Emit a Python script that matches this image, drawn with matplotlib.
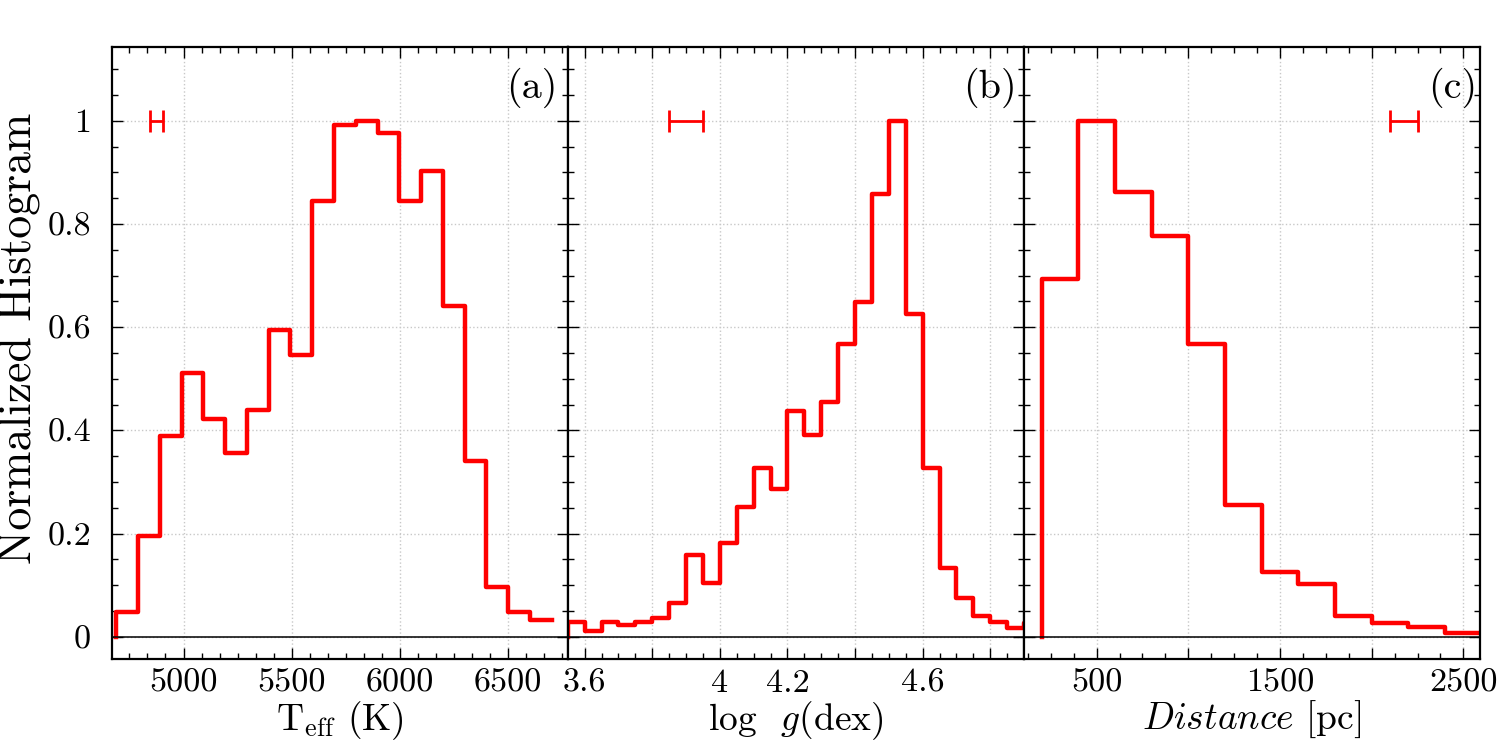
import numpy as np
import matplotlib
matplotlib.use('Agg')
import matplotlib.pyplot as plt
from matplotlib.ticker import MultipleLocator, FixedLocator, FixedFormatter, FuncFormatter

plt.rcParams['font.family'] = ['cmr10', 'DejaVu Serif']
plt.rcParams['mathtext.fontset'] = 'cm'
plt.rcParams['axes.formatter.use_mathtext'] = True
plt.rcParams['axes.unicode_minus'] = False

# (a) effective temperature, 20 bins
teff_start, teff_width = 4690, 100.5
teff_hist = [0.048, 0.195, 0.390, 0.512, 0.422, 0.357, 0.439, 0.594, 0.546, 0.845,
             0.992, 1.000, 0.976, 0.845, 0.902, 0.641, 0.341, 0.097, 0.048, 0.032]

# (b) surface gravity, 0.05 dex bins
logg_start, logg_width = 3.55, 0.05
logg_hist = [0.029, 0.011, 0.029, 0.023, 0.029, 0.036, 0.065, 0.158, 0.105, 0.182,
             0.252, 0.328, 0.286, 0.438, 0.391, 0.455, 0.567, 0.649, 0.859, 1.000,
             0.625, 0.328, 0.134, 0.076, 0.040, 0.029, 0.018, 0.027]

# (c) distance, 200 pc bins
dist_start, dist_width = 200, 200
dist_hist = [0.693, 1.000, 0.862, 0.777, 0.567, 0.255, 0.126, 0.103, 0.040, 0.026,
             0.019, 0.0066]

# typical uncertainties (centre, y, half-width)
err_a = (4873, 1.0, 30)
err_b = (3.90, 1.0, 0.05)
err_c = (2175, 1.0, 75)

xlims = [(4670, 6776), (3.551, 4.90), (104, 2591)]
ylim = (-0.043, 1.143)

logg_ticks = [3.6, 3.8, 4.0, 4.2, 4.4, 4.6, 4.8]
logg_labels = ['3.6', '', '4', '4.2', '', '4.6', '']
dist_ticks = [500, 1000, 1500, 2000, 2500]
dist_labels = ['500', '', '1500', '', '2500']

xlabels = [r'T$_{\mathrm{eff}}$ (K)', r'log  $g$(dex)', r'$Distance$ [pc]']
tags = ['(a)', '(b)', '(c)']
tag_x = [0.976, 0.985, 0.993]

fig, axes = plt.subplots(1, 3, figsize=(15, 7.5), dpi=100, sharey=True)
fig.subplots_adjust(left=0.0747, right=0.9867, top=0.9373, bottom=0.1213, wspace=0)

panels = [(teff_start, teff_width, teff_hist, err_a),
          (logg_start, logg_width, logg_hist, err_b),
          (dist_start, dist_width, dist_hist, err_c)]

for i, (ax, (start, width, hist, err)) in enumerate(zip(axes, panels)):
    edges = start + width * np.arange(len(hist) + 1)
    ax.step(edges, np.r_[0, hist], where='pre', color='red', lw=3.2)
    ax.errorbar(err[0], err[1], xerr=err[2], color='red', lw=2, capsize=8, capthick=2)
    ax.axhline(0, color='black', lw=1.1)
    ax.set_xlim(*xlims[i])
    ax.set_ylim(*ylim)
    ax.grid(True, which='major', color='#c8c8c8', ls=':', lw=1)
    ax.set_xlabel(xlabels[i], fontsize=27, labelpad=1)
    ax.text(tag_x[i], 0.967, tags[i], transform=ax.transAxes, ha='right', va='top', fontsize=29)
    ax.tick_params(which='both', direction='in', top=True, right=True, width=1)
    ax.tick_params(which='major', length=8, labelsize=24.5)
    ax.tick_params(which='minor', length=4.3)
    ax.tick_params(axis='x', pad=7)
    ax.tick_params(axis='y', pad=15)
    for s in ax.spines.values():
        s.set_linewidth(1.6)

axes[0].xaxis.set_major_locator(MultipleLocator(500))
axes[0].xaxis.set_minor_locator(MultipleLocator(500 / 6))
axes[0].xaxis.set_major_formatter(FuncFormatter(lambda v, p: f'{v:g}'))

axes[1].xaxis.set_major_locator(FixedLocator(logg_ticks))
axes[1].xaxis.set_major_formatter(FixedFormatter(logg_labels))
axes[1].xaxis.set_minor_locator(MultipleLocator(0.05))

axes[2].xaxis.set_major_locator(FixedLocator(dist_ticks))
axes[2].xaxis.set_major_formatter(FixedFormatter(dist_labels))
axes[2].xaxis.set_minor_locator(MultipleLocator(125))

axes[0].yaxis.set_major_locator(MultipleLocator(0.2))
axes[0].yaxis.set_minor_locator(MultipleLocator(0.05))
axes[0].yaxis.set_major_formatter(FuncFormatter(lambda v, p: f'{v:g}'))
axes[0].set_ylabel('Normalized Histogram', fontsize=33)
axes[0].yaxis.set_label_coords(-0.155, 0.5245)

fig.savefig('out.png', dpi=100)
